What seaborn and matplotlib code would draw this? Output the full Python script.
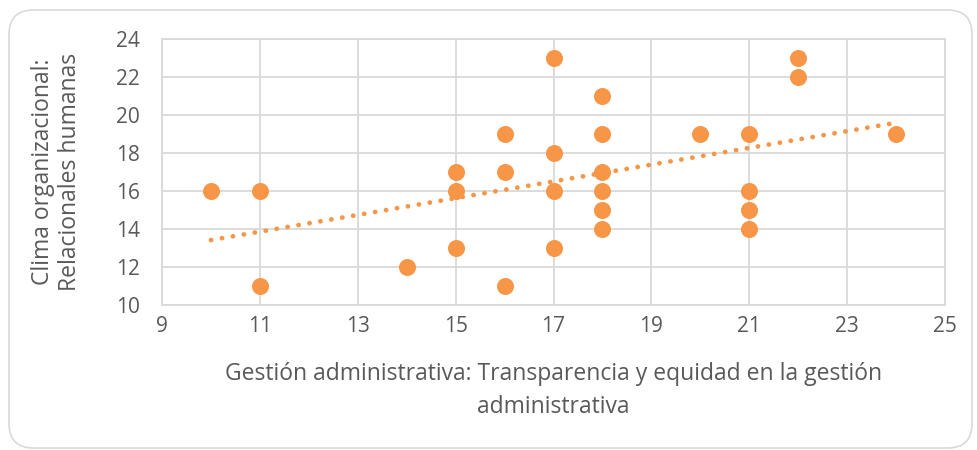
import matplotlib
matplotlib.use("Agg")
import matplotlib.pyplot as plt
from matplotlib.patches import FancyBboxPatch
import numpy as np
import pandas as pd
import seaborn as sns

gestion = [10, 11, 11, 14, 15, 15, 15, 16, 16, 16, 17, 17, 17, 17,
           18, 18, 18, 18, 18, 18, 20, 21, 21, 21, 21, 22, 22, 24]
clima = [16, 16, 11, 12, 17, 16, 13, 19, 17, 11, 23, 18, 16, 13,
         21, 19, 17, 16, 15, 14, 19, 19, 16, 15, 14, 23, 22, 19]
x_ticks = [9, 11, 13, 15, 17, 19, 21, 23, 25]
y_ticks = [10, 12, 14, 16, 18, 20, 22, 24]

df = pd.DataFrame({"x": gestion, "y": clima})

sns.set_theme(style="white")
plt.rcParams["font.family"] = ["Open Sans", "DejaVu Sans"]

ORANGE = "#F79646"
GRID = "#D9D9D9"
TXT = "#595959"

fig = plt.figure(figsize=(9.77, 4.5), dpi=100)
ax = fig.add_axes([162 / 977, 1 - 305 / 450, (945 - 162) / 977, (305 - 39) / 450])

sns.regplot(data=df, x="x", y="y", ax=ax, ci=None, truncate=True,
            scatter_kws={"s": 150, "color": ORANGE, "alpha": 1, "linewidths": 0, "zorder": 3},
            line_kws={"color": ORANGE, "linestyle": (0, (0.05, 2.3)), "linewidth": 3.4,
                      "dash_capstyle": "round", "zorder": 2})

ax.set_xlim(9, 25)
ax.set_ylim(10, 24)
ax.set_xticks(x_ticks)
ax.set_yticks(y_ticks)
ax.grid(True, color=GRID, linewidth=1.3)
ax.set_axisbelow(True)
for s in ax.spines.values():
    s.set_color(GRID)
    s.set_linewidth(1.3)
ax.tick_params(axis="both", length=0, labelsize=15, labelcolor=TXT)
ax.tick_params(axis="y", pad=16)
ax.tick_params(axis="x", pad=8)

ax.set_xlabel("Gestión administrativa: Transparencia y equidad en la gestión\nadministrativa",
              fontsize=16.5, color=TXT, labelpad=18, linespacing=1.5)
ax.set_ylabel("Clima organizacional:\nRelacionales humanas", fontsize=16.5, color=TXT,
              labelpad=24, linespacing=1.2)

border = FancyBboxPatch((9 / 977, 2 / 450), 963 / 977, 438 / 450,
                        boxstyle="round,pad=0,rounding_size=0.025",
                        mutation_aspect=977 / 450,
                        transform=fig.transFigure, facecolor="none",
                        edgecolor="#D9D9D9", linewidth=1.2)
fig.patches.append(border)

fig.savefig("out.png", dpi=100)
